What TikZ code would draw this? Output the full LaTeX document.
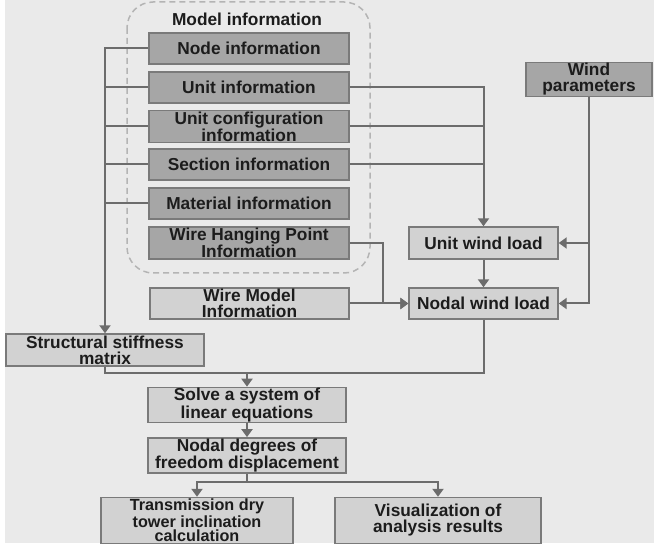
\documentclass[tikz,border=0pt]{standalone}
\usepackage{fontspec}
\setmainfont{Liberation Sans}
\usetikzlibrary{arrows.meta}
\definecolor{bgc}{HTML}{EAEAEA}
\definecolor{darkbox}{HTML}{A6A6A6}
\definecolor{lightbox}{HTML}{D2D2D2}
\definecolor{edgec}{HTML}{7A7A7A}
\definecolor{linec}{HTML}{6C6C6C}
\definecolor{dashc}{HTML}{B4B4B4}
\definecolor{txt}{HTML}{1C1C1C}
\tikzset{
  box/.style={draw=edgec, line width=1.4pt, text=txt, align=center,
    font=\fontsize{17.3}{16}\selectfont\bfseries, inner sep=1pt},
  dbox/.style={box, fill=darkbox, minimum width=200pt, minimum height=31pt},
  lbox/.style={box, fill=lightbox},
  conn/.style={draw=linec, line width=2pt},
  arr/.style={conn, -{Triangle[width=11pt,length=8pt]}},
}
\begin{document}
\begin{tikzpicture}[x=1pt,y=-1pt]
\useasboundingbox (0,0) rectangle (654,548);
\fill[white] (0,0) rectangle (654,548);
\fill[bgc] (5,0) rectangle (654,543);
\draw[dashc, line width=1.5pt, dash pattern=on 6pt off 4pt, rounded corners=26pt] (127,2) rectangle (370,273);
\node[text=txt, font=\fontsize{17.3}{16}\selectfont\bfseries] (title) at (247,19) {Model information};
\node[dbox] (ni) at (249,48.5) {Node information};
\node[dbox] (ui) at (249,87.5) {Unit information};
\node[dbox] (uc) at (249,126.5) {Unit configuration\\information};
\node[dbox] (si) at (249,164.5) {Section information};
\node[dbox] (mi) at (249,203.5) {Material information};
\node[dbox] (wh) at (249,243) {Wire Hanging Point\\Information};
\node[dbox, minimum width=126pt] (wp) at (589,79.5) {Wind\\parameters};
\node[lbox, minimum width=149pt, minimum height=32pt] (uw) at (483.5,243) {Unit wind load};
\node[lbox, minimum width=149pt, minimum height=31pt] (nw) at (483.5,303.5) {Nodal wind load};
\node[lbox, minimum width=199pt, minimum height=31pt] (wm) at (249.5,303.5) {Wire Model\\Information};
\node[lbox, minimum width=198pt, minimum height=32pt] (sm) at (105,350) {Structural stiffness\\matrix};
\node[lbox, minimum width=198pt, minimum height=30pt] (sl) at (247,405) {Solve a system of\\linear equations};
\node[lbox, minimum width=198pt, minimum height=31pt] (nd) at (247,455.5) {Nodal degrees of\\freedom displacement};
\node[lbox, minimum width=192pt, minimum height=46pt, inner sep=0pt, font=\fontsize{16.2}{14.6}\selectfont\bfseries] (tr) at (197,520.5) {Transmission dry\\tower inclination\\calculation};
\node[lbox, minimum width=206pt, minimum height=46pt] (vz) at (438,520.5) {Visualization of\\analysis results};
% left bus
\draw[arr] (ni.west) -| (sm.north);
\draw[conn] (ui.west) -- (ui.west -| sm.north);
\draw[conn] (uc.west) -- (uc.west -| sm.north);
\draw[conn] (si.west) -- (si.west -| sm.north);
\draw[conn] (mi.west) -- (mi.west -| sm.north);
% right bus
\draw[arr] (ui.east) -| (uw.north);
\draw[conn] (uc.east) -- (uc.east -| uw.north);
\draw[conn] (si.east) -- (si.east -| uw.north);
\draw[arr] (uw.south) -- (nw.north);
\draw[arr] (wh.east) -- ++(33,0) |- (nw.west);
\draw[arr] (wm.east) -- (nw.west);
\draw[arr] (wp.south) |- (uw.east);
\draw[arr] (wp.south) |- (nw.east);
% lower part
\coordinate (j1) at (247,373);
\draw[conn] (sm.south) |- (j1);
\draw[conn] (nw.south) |- (j1);
\draw[arr] (j1) -- (sl.north);
\draw[arr] (sl.south) -- (nd.north);
\coordinate (j2) at (247,482);
\draw[conn] (nd.south) -- (j2);
\draw[arr] (j2) -| (tr.north);
\draw[arr] (j2) -| (vz.north);
\end{tikzpicture}
\end{document}
